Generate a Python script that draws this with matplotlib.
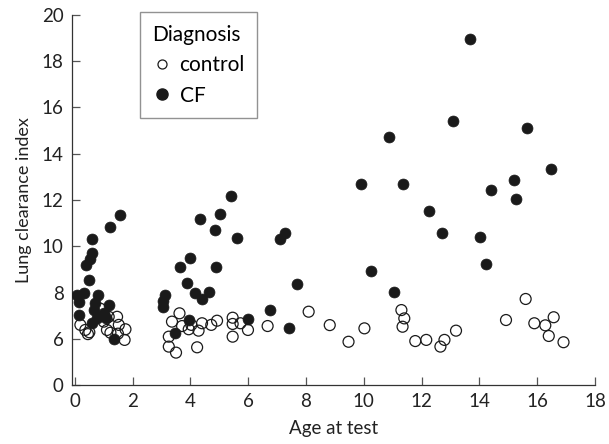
import matplotlib
matplotlib.use("Agg")
import matplotlib.pyplot as plt
from matplotlib.lines import Line2D

# ---- data ----
cf_age = [1.57, 1.23, 0.59, 0.59, 0.54, 0.40, 0.50, 0.08, 0.30, 0.13, 0.80, 0.69, 1.17,
          0.65, 0.13, 1.00, 1.06, 0.77, 0.59, 1.34,
          3.13, 3.04, 3.04, 3.48, 3.94, 3.63, 4.00, 3.88, 4.15, 4.40, 4.63, 4.34, 4.86,
          5.03, 5.40, 5.61, 4.90, 5.99, 6.74, 7.11, 7.28, 7.69, 7.42,
          9.90, 11.34, 10.86, 10.25, 11.06, 12.24, 12.70, 13.69, 13.07, 15.65, 16.49,
          15.18, 14.41, 15.28, 14.03, 14.24]
cf_lci = [11.35, 10.85, 10.30, 9.70, 9.45, 9.19, 8.55, 7.89, 7.97, 7.60, 7.89, 7.53, 7.44,
          7.24, 7.02, 7.10, 6.88, 6.88, 6.67, 5.98,
          7.89, 7.62, 7.39, 6.26, 6.82, 9.12, 9.48, 8.40, 7.99, 7.70, 8.03, 11.17, 10.70,
          11.38, 12.17, 10.34, 9.09, 6.84, 7.24, 10.30, 10.56, 8.35, 6.48,
          12.68, 12.68, 14.74, 8.94, 8.01, 11.54, 10.58, 18.95, 15.43, 15.10, 13.33,
          12.85, 12.42, 12.04, 10.39, 9.22]

ctrl_age = [0.19, 0.36, 0.50, 0.45, 0.88, 1.17, 1.46, 1.52, 1.11, 1.23, 1.75, 1.49, 1.72, 1.00,
            3.62, 3.36, 3.71, 4.03, 4.40, 4.72, 4.92, 4.28, 3.94, 3.25, 3.25, 3.50, 4.23,
            5.46, 5.46, 5.73, 5.99, 5.46, 6.67,
            8.09, 8.82, 9.47, 10.02, 11.30, 11.40, 11.34, 11.78, 12.16, 12.65, 12.79, 13.19,
            14.92, 15.60, 15.90, 16.28, 16.57, 16.40, 16.91]
ctrl_lci = [6.60, 6.38, 6.28, 6.20, 7.30, 6.95, 6.95, 6.60, 6.38, 6.26, 6.41, 6.22, 5.95, 6.74,
            7.10, 6.74, 6.55, 6.60, 6.67, 6.60, 6.78, 6.35, 6.41, 6.09, 5.66, 5.40, 5.63,
            6.91, 6.64, 6.67, 6.38, 6.09, 6.55,
            7.17, 6.59, 5.87, 6.45, 7.24, 6.88, 6.52, 5.90, 5.95, 5.66, 5.95, 6.35,
            6.81, 7.72, 6.67, 6.58, 6.93, 6.12, 5.85]

x_ticks = [0, 2, 4, 6, 8, 10, 12, 14, 16, 18]
y_ticks = [4, 6, 8, 10, 12, 14, 16, 18, 20]
y_tick_labels = ["0", "6", "8", "10", "12", "14", "16", "18", "20"]

plt.rcParams['font.family'] = ['Lato', 'DejaVu Sans']

fig = plt.figure(figsize=(6.09, 4.44), dpi=100)
ax = fig.add_axes([72/609, 1 - 385/444, 523/609, 370/444])

ax.scatter(ctrl_age, ctrl_lci, s=62, facecolors='none', edgecolors='#1a1a1a',
           linewidths=0.9, zorder=3)
ax.scatter(cf_age, cf_lci, s=62, facecolors='#1a1a1a', edgecolors='#1a1a1a',
           linewidths=0.5, zorder=4)

ax.set_xlim(-0.1, 18)
ax.set_ylim(4, 20)
ax.set_xticks(x_ticks)
ax.set_yticks(y_ticks)
ax.set_yticklabels(y_tick_labels)

for s in ['top', 'right']:
    ax.spines[s].set_visible(False)
for s in ['left', 'bottom']:
    ax.spines[s].set_color('#333333')
    ax.spines[s].set_linewidth(0.9)

ax.tick_params(direction='in', length=6, width=0.9, color='#555555',
               labelsize=13.5, labelcolor='#222222', pad=6)

ax.set_xlabel("Age at test", fontsize=13.5, color='#222222', labelpad=7)
ax.set_ylabel("Lung clearance index", fontsize=13, color='#222222', labelpad=7)

handles = [
    Line2D([], [], linestyle='none', marker='o', markersize=6.5, markerfacecolor='none',
           markeredgecolor='#1a1a1a', markeredgewidth=0.9, label='control'),
    Line2D([], [], linestyle='none', marker='o', markersize=8, markerfacecolor='#1a1a1a',
           markeredgecolor='#1a1a1a', label='CF'),
]
leg = ax.legend(handles=handles, title="Diagnosis", loc='upper left',
                bbox_to_anchor=(0.13, 1.007), borderaxespad=0, fontsize=15,
                title_fontsize=15, frameon=True, fancybox=False, handletextpad=0.4,
                handlelength=0.9, borderpad=0.6, labelspacing=0.5)
leg._legend_box.align = "left"
leg.get_frame().set_edgecolor('#777777')
leg.get_frame().set_linewidth(1.0)

fig.savefig("out.png", dpi=100)
